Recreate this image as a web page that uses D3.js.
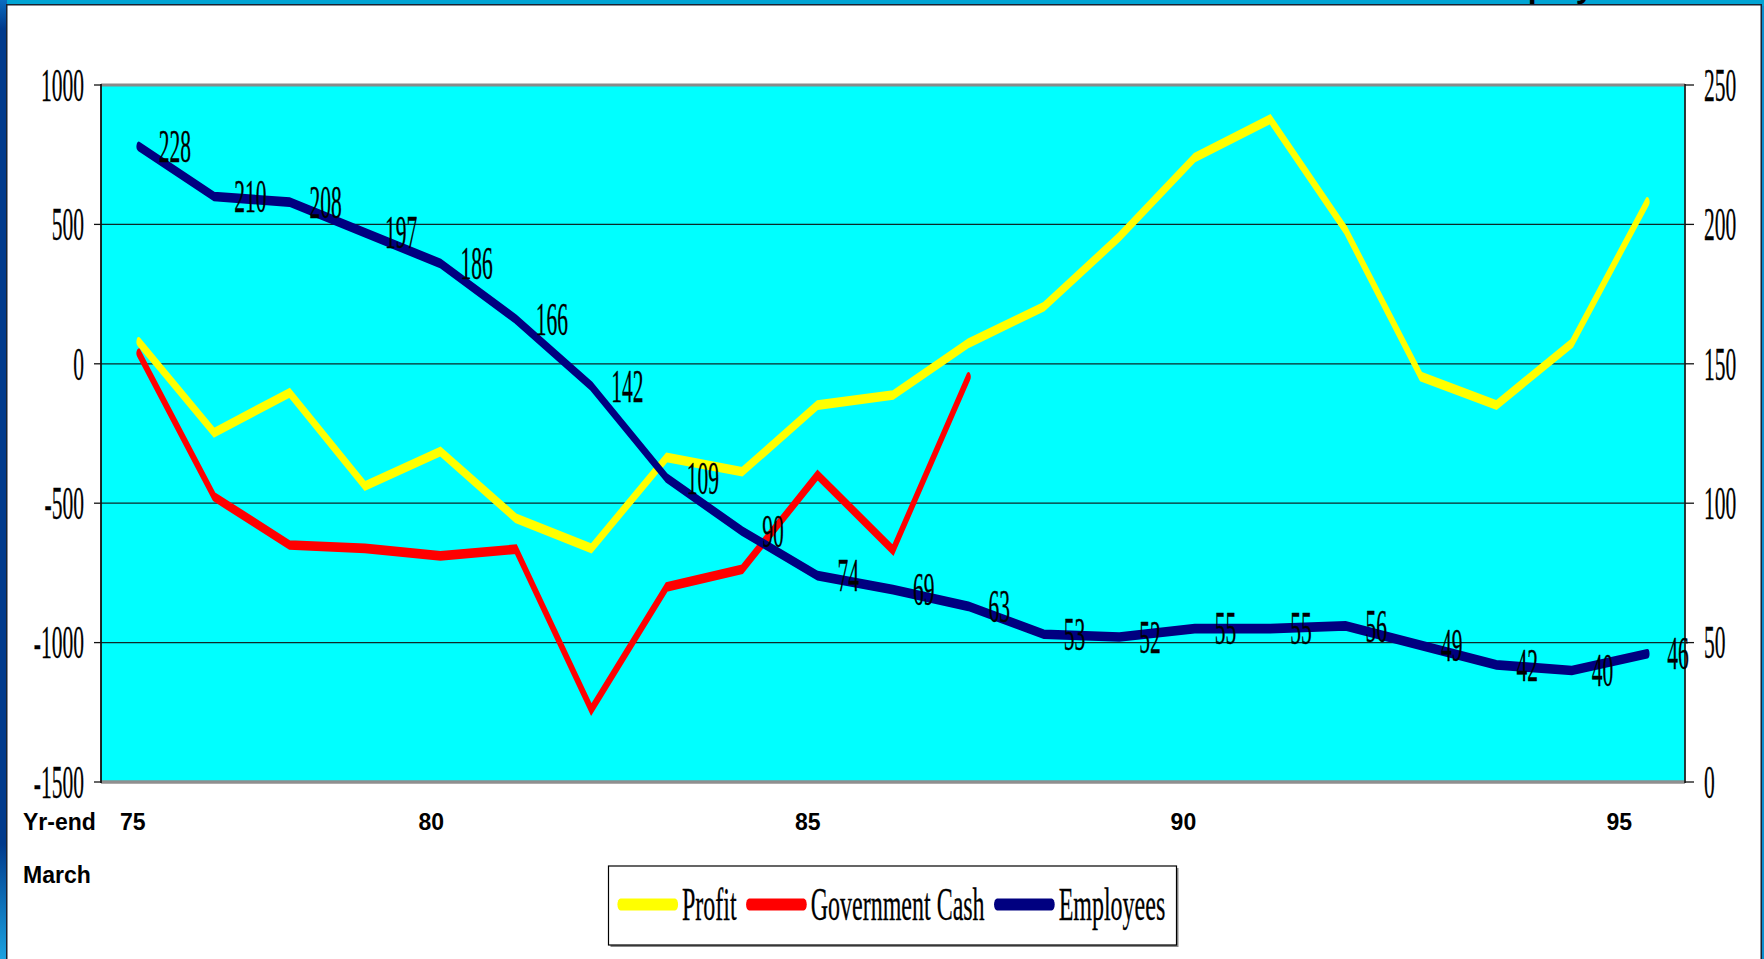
<!DOCTYPE html>
<html><head><meta charset="utf-8">
<script src="https://cdn.jsdelivr.net/npm/d3@7"></script>
<style>
html,body{margin:0;padding:0;overflow:hidden;background:#0a8fd0;}
svg{display:block;}
</style></head>
<body>
<svg id="c" width="1764" height="959"></svg>
<script>
// ---------------- data ----------------
const years = [75,76,77,78,79,80,81,82,83,84,85,86,87,88,89,90,91,92,93,94,95];
const profit = [79,-247,-104,-438,-315,-554,-662,-336,-387,-148,-112,74,205,455,740,877,480,-46,-148,74,581];
const govCash = [38,-477,-650,-662,-689,-665,-1240,-800,-737,-399,-668,-47];
const employees = [228,210,208,197,186,166,142,109,90,74,69,63,53,52,55,55,56,49,42,40,46];
const leftTicks = [1000,500,0,-500,-1000,-1500];
const rightTicks = [250,200,150,100,50,0];
const xTickLabels = ["75","80","85","90","95"];
const xTickAt = [74.92,78.88,83.87,88.85,94.63];
const xTitleLines = ["Yr-end","March"];
const seriesNames = ["Profit","Government Cash","Employees"];
const seriesColors = ["#FFFF00","#FF0000","#000080"];
const titleText = "Employees";

// ---------------- layout ----------------
const W = 1764, H = 959;
const L = 101, R = 1685, T = 85, B = 782;
const S = 2.15;          // vertical stretch of the original picture
const serif = "'Liberation Serif','Times New Roman',serif";
const sans = "'Liberation Sans',Arial,sans-serif";
const fs = 21.5;

const svg = d3.select("#c");
const defs = svg.append("defs");
const lg = defs.append("linearGradient").attr("id","leftg").attr("x1",0).attr("y1",0).attr("x2",0).attr("y2",1);
lg.append("stop").attr("offset","0").attr("stop-color","#0a6cc0");
lg.append("stop").attr("offset","0.03").attr("stop-color","#003a8c");
lg.append("stop").attr("offset","0.88").attr("stop-color","#003a8c");
lg.append("stop").attr("offset","1").attr("stop-color","#1aa2e0");

// slide background
svg.append("rect").attr("x",0).attr("y",0).attr("width",W).attr("height",H).attr("fill","#0a8fd0");
svg.append("rect").attr("x",0).attr("y",0).attr("width",W).attr("height",6).attr("fill","#00a4d4");
svg.append("rect").attr("x",0).attr("y",0).attr("width",7).attr("height",H).attr("fill","url(#leftg)");

// cut-off title (only its descenders show above the panel, as in the reference)
svg.append("text").attr("x",1478).attr("y",-3.5).attr("font-family",sans).attr("font-weight","bold")
  .attr("font-size",32).attr("fill","#000").text(titleText);

// white panel
svg.append("rect").attr("x",6.75).attr("y",4.75).attr("width",1754.5).attr("height",H+10)
  .attr("fill","#fff").attr("stroke","#1a2230").attr("stroke-width",1.5);

// scales
const x = d3.scaleLinear().domain([74.5,95.5]).range([L,R]);
const yL = d3.scaleLinear().domain([-1500,1000]).range([B,T]);
const yR = d3.scaleLinear().domain([0,250]).range([B,T]);

// plot area
svg.append("rect").attr("x",L).attr("y",T).attr("width",R-L).attr("height",B-T).attr("fill","#00FFFF");

// gridlines
svg.append("g").selectAll("line").data(leftTicks.filter(v=>v!==1000 && v!==-1500)).join("line")
  .attr("x1",L).attr("x2",R).attr("y1",d=>yL(d)).attr("y2",d=>yL(d))
  .attr("stroke","#0d2a2a").attr("stroke-width",1.2);

// plot frame
svg.append("line").attr("x1",L).attr("x2",R).attr("y1",T).attr("y2",T).attr("stroke","#8a8a8a").attr("stroke-width",3);
svg.append("line").attr("x1",L).attr("x2",R).attr("y1",B).attr("y2",B).attr("stroke","#8f8f8f").attr("stroke-width",3.5);
svg.append("line").attr("x1",L).attr("x2",L).attr("y1",T-1).attr("y2",B+1).attr("stroke","#111").attr("stroke-width",1.8);
svg.append("line").attr("x1",R).attr("x2",R).attr("y1",T-1).attr("y2",B+1).attr("stroke","#222").attr("stroke-width",1.8);

// axis ticks
svg.append("g").selectAll("line").data(leftTicks).join("line")
  .attr("x1",L-7).attr("x2",L).attr("y1",d=>yL(d)).attr("y2",d=>yL(d)).attr("stroke","#111").attr("stroke-width",1.3);
svg.append("g").selectAll("line").data(rightTicks).join("line")
  .attr("x1",R).attr("x2",R+9).attr("y1",d=>yR(d)).attr("y2",d=>yR(d)).attr("stroke","#111").attr("stroke-width",1.3);

function sText(parent, tx, ty, txt, anchor, size, stretch){
  return parent.append("text")
    .attr("transform",`translate(${tx},${ty}) scale(1,${stretch})`)
    .attr("y", 0.34*size)
    .attr("text-anchor",anchor)
    .attr("font-family",serif).attr("font-size",size).attr("fill","#000")
    .attr("stroke","#000").attr("stroke-width",0.15)
    .text(txt);
}

// axis labels
const axG = svg.append("g");
leftTicks.forEach(v => sText(axG, L-17, yL(v), String(v), "end", fs, S));
rightTicks.forEach(v => sText(axG, R+19, yR(v), String(v), "start", fs, S));

// series lines (drawn in the stretched space)
const lineG = svg.append("g").attr("transform",`scale(1,${S})`);
const lw = 4.5;
function drawSeries(vals, yScale, color){
  const gen = d3.line().x((d,i)=>x(years[i])).y(d=>yScale(d)/S);
  lineG.append("path").attr("d",gen(vals)).attr("fill","none").attr("stroke",color)
    .attr("stroke-width",lw).attr("stroke-linejoin","miter").attr("stroke-miterlimit",3).attr("stroke-linecap","round");
}
drawSeries(profit, yL, seriesColors[0]);
drawSeries(govCash, yL, seriesColors[1]);
drawSeries(employees, yR, seriesColors[2]);

// data labels for employees
const dl = svg.append("g");
employees.forEach((v,i) => sText(dl, x(years[i])+20, yR(v), String(v), "start", fs, S));

// x axis labels
const xg = svg.append("g").attr("font-family",sans).attr("font-weight","bold").attr("font-size",23).attr("fill","#000");
xg.append("text").attr("x",23).attr("y",830).text(xTitleLines[0]);
xg.append("text").attr("x",23).attr("y",883).text(xTitleLines[1]);
xTickLabels.forEach((t,i)=>{
  xg.append("text").attr("x",x(xTickAt[i])).attr("y",830).attr("text-anchor","middle").text(t);
});

// legend
const lgX0 = 608.5, lgY0 = 866, lgW = 568, lgH = 79;
svg.append("rect").attr("x",lgX0+2).attr("y",lgY0+2).attr("width",lgW).attr("height",lgH).attr("fill","#888");
svg.append("rect").attr("x",lgX0).attr("y",lgY0).attr("width",lgW).attr("height",lgH).attr("fill","#fff").attr("stroke","#000").attr("stroke-width",1.2);
const LS = 1.95, lfs = 24, swY = 904.5;
let cx = 617;
const legG = svg.append("g");
seriesNames.forEach((name,i)=>{
  legG.append("line").attr("transform",`scale(1,${LS})`)
    .attr("x1",cx+3.5).attr("x2",cx+58).attr("y1",swY/LS).attr("y2",swY/LS)
    .attr("stroke",seriesColors[i]).attr("stroke-width",12/LS).attr("stroke-linecap","round");
  const t = legG.append("text")
    .attr("transform",`translate(${cx+65},920) scale(1,${LS})`)
    .attr("font-family",serif).attr("font-size",lfs).attr("fill","#000")
    .attr("stroke","#000").attr("stroke-width",0.15).text(name);
  cx = cx + 65 + t.node().getComputedTextLength() + 9;
});
</script>
</body></html>
